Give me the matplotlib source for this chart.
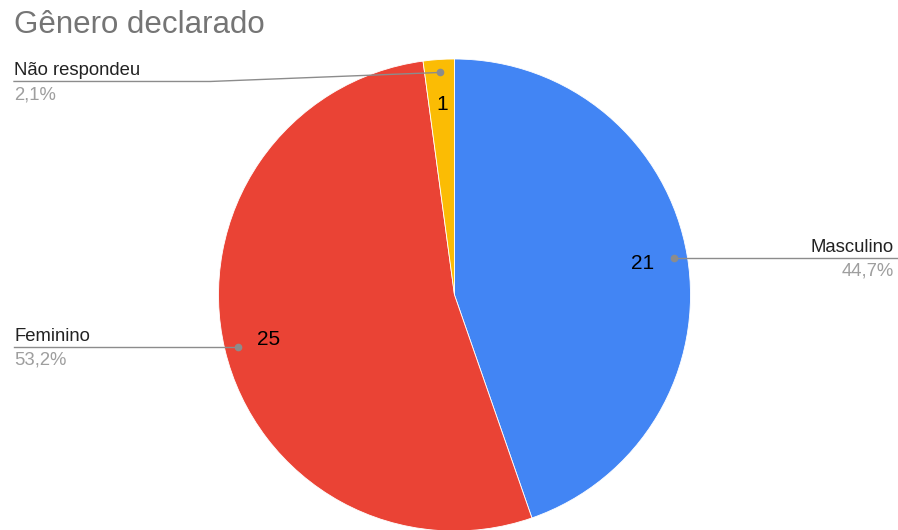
import matplotlib
matplotlib.use("Agg")
import matplotlib.pyplot as plt
import numpy as np

W, H = 898, 530

title = "Gênero declarado"
labels = ["Masculino", "Feminino", "Não respondeu"]
counts = [21, 25, 1]
pct_text = ["44,7%", "53,2%", "2,1%"]
colors = ["#4285F4", "#EA4335", "#FBBC04"]

CX, CY, R = 454.5, H - 295, 236
LABEL_C = "#222222"
PCT_C = "#9E9E9E"
LINE_C = "#8C8C8C"
FS = 13.3

plt.rcParams["font.family"] = ["Liberation Sans", "DejaVu Sans"]

fig = plt.figure(figsize=(W / 100, H / 100), dpi=100)
ax = fig.add_axes([0, 0, 1, 1])

ax.pie(counts, colors=colors, startangle=90, counterclock=False,
       center=(CX, CY), radius=R, labels=[str(c) for c in counts],
       labeldistance=0.81, textprops=dict(fontsize=15, color="black", ha="center", va="center"),
       wedgeprops=dict(edgecolor="white", linewidth=0.6))
ax.set_xlim(0, W)
ax.set_ylim(0, H)
ax.set_aspect("auto")
ax.axis("off")

# leader lines
total = sum(counts)
cum = np.cumsum([0] + counts)
mids = 90 - (cum[:-1] + np.array(counts) / 2) / total * 360
dots = [(CX + 0.945 * R * np.cos(np.radians(a)), CY + 0.945 * R * np.sin(np.radians(a))) for a in mids]

for i, (lab, pct) in enumerate(zip(labels, pct_text)):
    dx, dy = dots[i]
    ax.plot(dx, dy, "o", ms=4.5, color=LINE_C, zorder=5)
    if lab == "Masculino":
        ly = dy
        ax.plot([dx, W], [ly, ly], color=LINE_C, lw=1)
        ax.text(W - 4, ly + 2, lab, ha="right", va="bottom", fontsize=FS, color=LABEL_C)
        ax.text(W - 4, ly - 5, pct, ha="right", va="top", fontsize=FS, color=PCT_C)
    elif lab == "Feminino":
        ly = dy
        ax.plot([14, dx], [ly, ly], color=LINE_C, lw=1)
        ax.text(14, ly + 2, lab, ha="left", va="bottom", fontsize=FS, color=LABEL_C)
        ax.text(14, ly - 5, pct, ha="left", va="top", fontsize=FS, color=PCT_C)
    else:
        ly = dy - 9
        ax.plot([dx, 210, 14], [dy, ly, ly], color=LINE_C, lw=1)
        ax.text(14, ly + 2, lab, ha="left", va="bottom", fontsize=FS, color=LABEL_C)
        ax.text(14, ly - 5, pct, ha="left", va="top", fontsize=FS, color=PCT_C)

fig.text(14 / W, 1 - 25 / H, title, ha="left", va="center", fontsize=22.5, color="#757575")

fig.savefig("out.png", dpi=100, facecolor="white")
